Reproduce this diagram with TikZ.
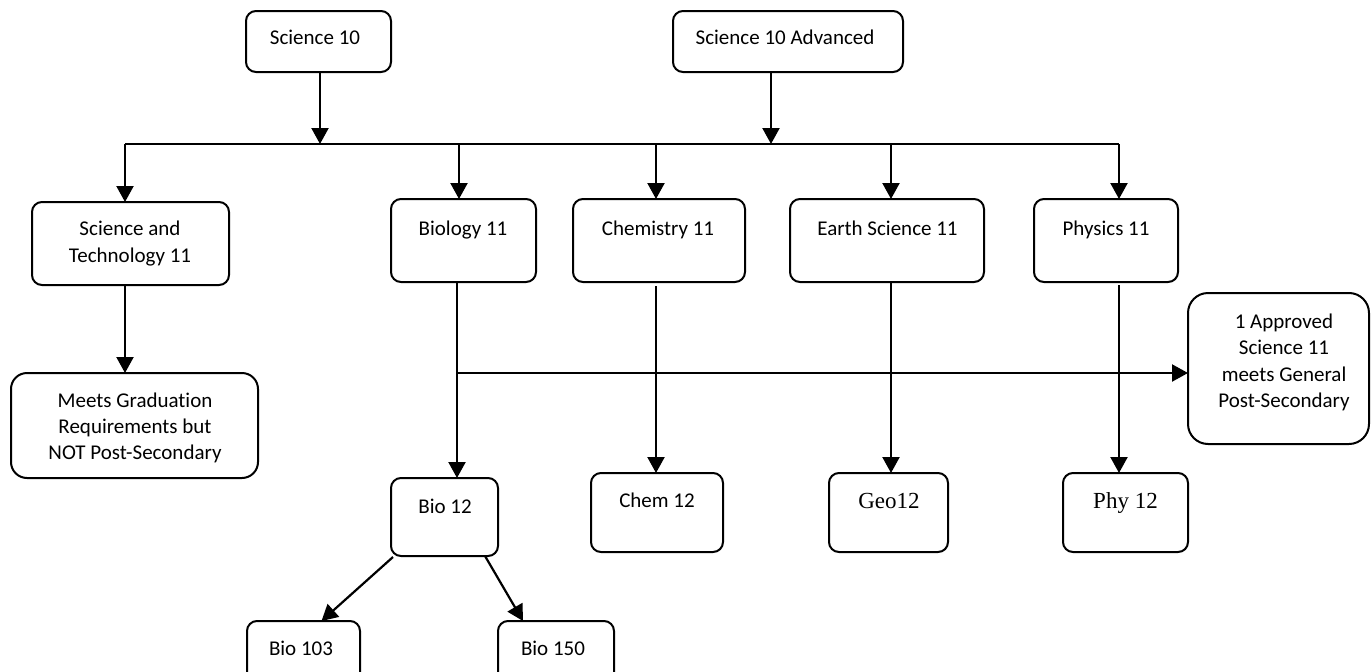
\documentclass[tikz,border=0pt]{standalone}
\usepackage{fontspec}
\setmainfont{Carlito}[Ligatures=NoCommon]
\newfontfamily\camb{Liberation Serif}
\usetikzlibrary{arrows.meta}
\begin{document}
\begin{tikzpicture}[x=1pt,y=-1pt,
  box/.style={draw, line width=2pt, rounded corners=10pt, anchor=north west, inner sep=0pt, outer sep=0pt},
  txt/.style={inner sep=0pt, font=\fontsize{21}{26.3}\selectfont, align=center},
  conn/.style={line width=2.2pt},
  arr/.style={line width=2.2pt, -{Triangle[length=16pt,width=17pt]}}]
\useasboundingbox (0,0) rectangle (1371,672);
% boxes
\node[box, minimum width=145pt, minimum height=61pt] (s10) at (246,11) {};
\node[box, minimum width=230pt, minimum height=61pt] (s10a) at (673,11) {};
\node[box, minimum width=197pt, minimum height=83pt] (st11) at (32,202) {};
\node[box, minimum width=145pt, minimum height=83pt] (bio11) at (391,199) {};
\node[box, minimum width=172pt, minimum height=83pt] (chem11) at (573,199) {};
\node[box, minimum width=194pt, minimum height=83pt] (earth11) at (790,199) {};
\node[box, minimum width=144pt, minimum height=83pt] (phys11) at (1034,199) {};
\node[box, minimum width=247pt, minimum height=105pt, rounded corners=16pt] (meets) at (11,373) {};
\node[box, minimum width=181pt, minimum height=151pt, rounded corners=20pt] (appr) at (1188,293) {};
\node[box, minimum width=107pt, minimum height=78pt] (bio12) at (391,478) {};
\node[box, minimum width=132pt, minimum height=79pt] (chem12) at (591,473) {};
\node[box, minimum width=119pt, minimum height=79pt] (geo12) at (829,473) {};
\node[box, minimum width=125pt, minimum height=79pt] (phy12) at (1063,473) {};
\node[box, minimum width=113pt, minimum height=69pt] (bio103) at (247,621) {};
\node[box, minimum width=116pt, minimum height=69pt] (bio150) at (498,621) {};
% texts
\node[txt, anchor=base] (ts10) at (315,44) {Science 10};
\node[txt, anchor=base] (ts10a) at (785,44) {Science 10 Advanced};
\node[txt] (tst11) at (130,243.5) {Science and\\Technology 11};
\node[txt, anchor=base] (tbio11) at (463,235) {Biology 11};
\node[txt, anchor=base] (tchem11) at (658,235) {Chemistry 11};
\node[txt, anchor=base] (tearth11) at (887.5,235) {Earth Science 11};
\node[txt, anchor=base] (tphys11) at (1106,235) {Physics 11};
\node[txt] (tmeets) at (135,428) {Meets Graduation\\Requirements but\\NOT Post-Secondary};
\node[txt] (tappr) at (1284,362.5) {1 Approved\\Science 11\\meets General\\Post-Secondary};
\node[txt, anchor=base] (tbio12) at (445,513) {Bio 12};
\node[txt, anchor=base] (tchem12) at (657,507) {Chem 12};
\node[txt, anchor=base, font=\camb\fontsize{23}{28}\selectfont] (tgeo12) at (889,508) {Geo12};
\node[txt, anchor=base, font=\camb\fontsize{23}{28}\selectfont] (tphy12) at (1125.5,508) {Phy 12};
\node[txt, anchor=base] (tbio103) at (301,655) {Bio 103};
\node[txt, anchor=base] (tbio150) at (553,655) {Bio 150};
% bus
\coordinate (bL) at (125,144);
\coordinate (bR) at (1119,144);
\coordinate (j1) at (320,144);
\coordinate (j2) at (771,144);
\coordinate (d1) at (125,144);
\coordinate (d2) at (459,144);
\coordinate (d3) at (656,144);
\coordinate (d4) at (891,144);
\coordinate (d5) at (1119,144);
\draw[conn] (bL) -- (bR);
\draw[arr] (s10.south -| j1) -- (j1);
\draw[arr] (s10a.south -| j2) -- (j2);
\draw[arr] (d1) -- (d1 |- st11.north);
\draw[arr] (d2) -- (d2 |- bio11.north);
\draw[arr] (d3) -- (d3 |- chem11.north);
\draw[arr] (d4) -- (d4 |- earth11.north);
\draw[arr] (d5) -- (d5 |- phys11.north);
% level 2
\coordinate (v1) at (125,0);
\coordinate (v2) at (457,0);
\coordinate (v3) at (656,0);
\coordinate (v4) at (891,0);
\coordinate (v5) at (1119,0);
\draw[arr] (st11.south -| v1) -- (meets.north -| v1);
\draw[arr] (bio11.south -| v2) -- (bio12.north -| v2);
\draw[arr] ([yshift=-4pt]chem11.south -| v3) -- (chem12.north -| v3);
\draw[arr] (earth11.south -| v4) -- (geo12.north -| v4);
\draw[arr] ([yshift=-3pt]phys11.south -| v5) -- (phy12.north -| v5);
\coordinate (h1) at (457,373);
\draw[arr] (h1) -- (h1 -| appr.west);
% bio 12 children
\draw[arr] ([xshift=2pt,yshift=-1pt]bio12.south west) -- ([xshift=18pt]bio103.north);
\draw[arr] ([xshift=-13pt]bio12.south east) -- ([xshift=-33pt]bio150.north);
\end{tikzpicture}
\end{document}
